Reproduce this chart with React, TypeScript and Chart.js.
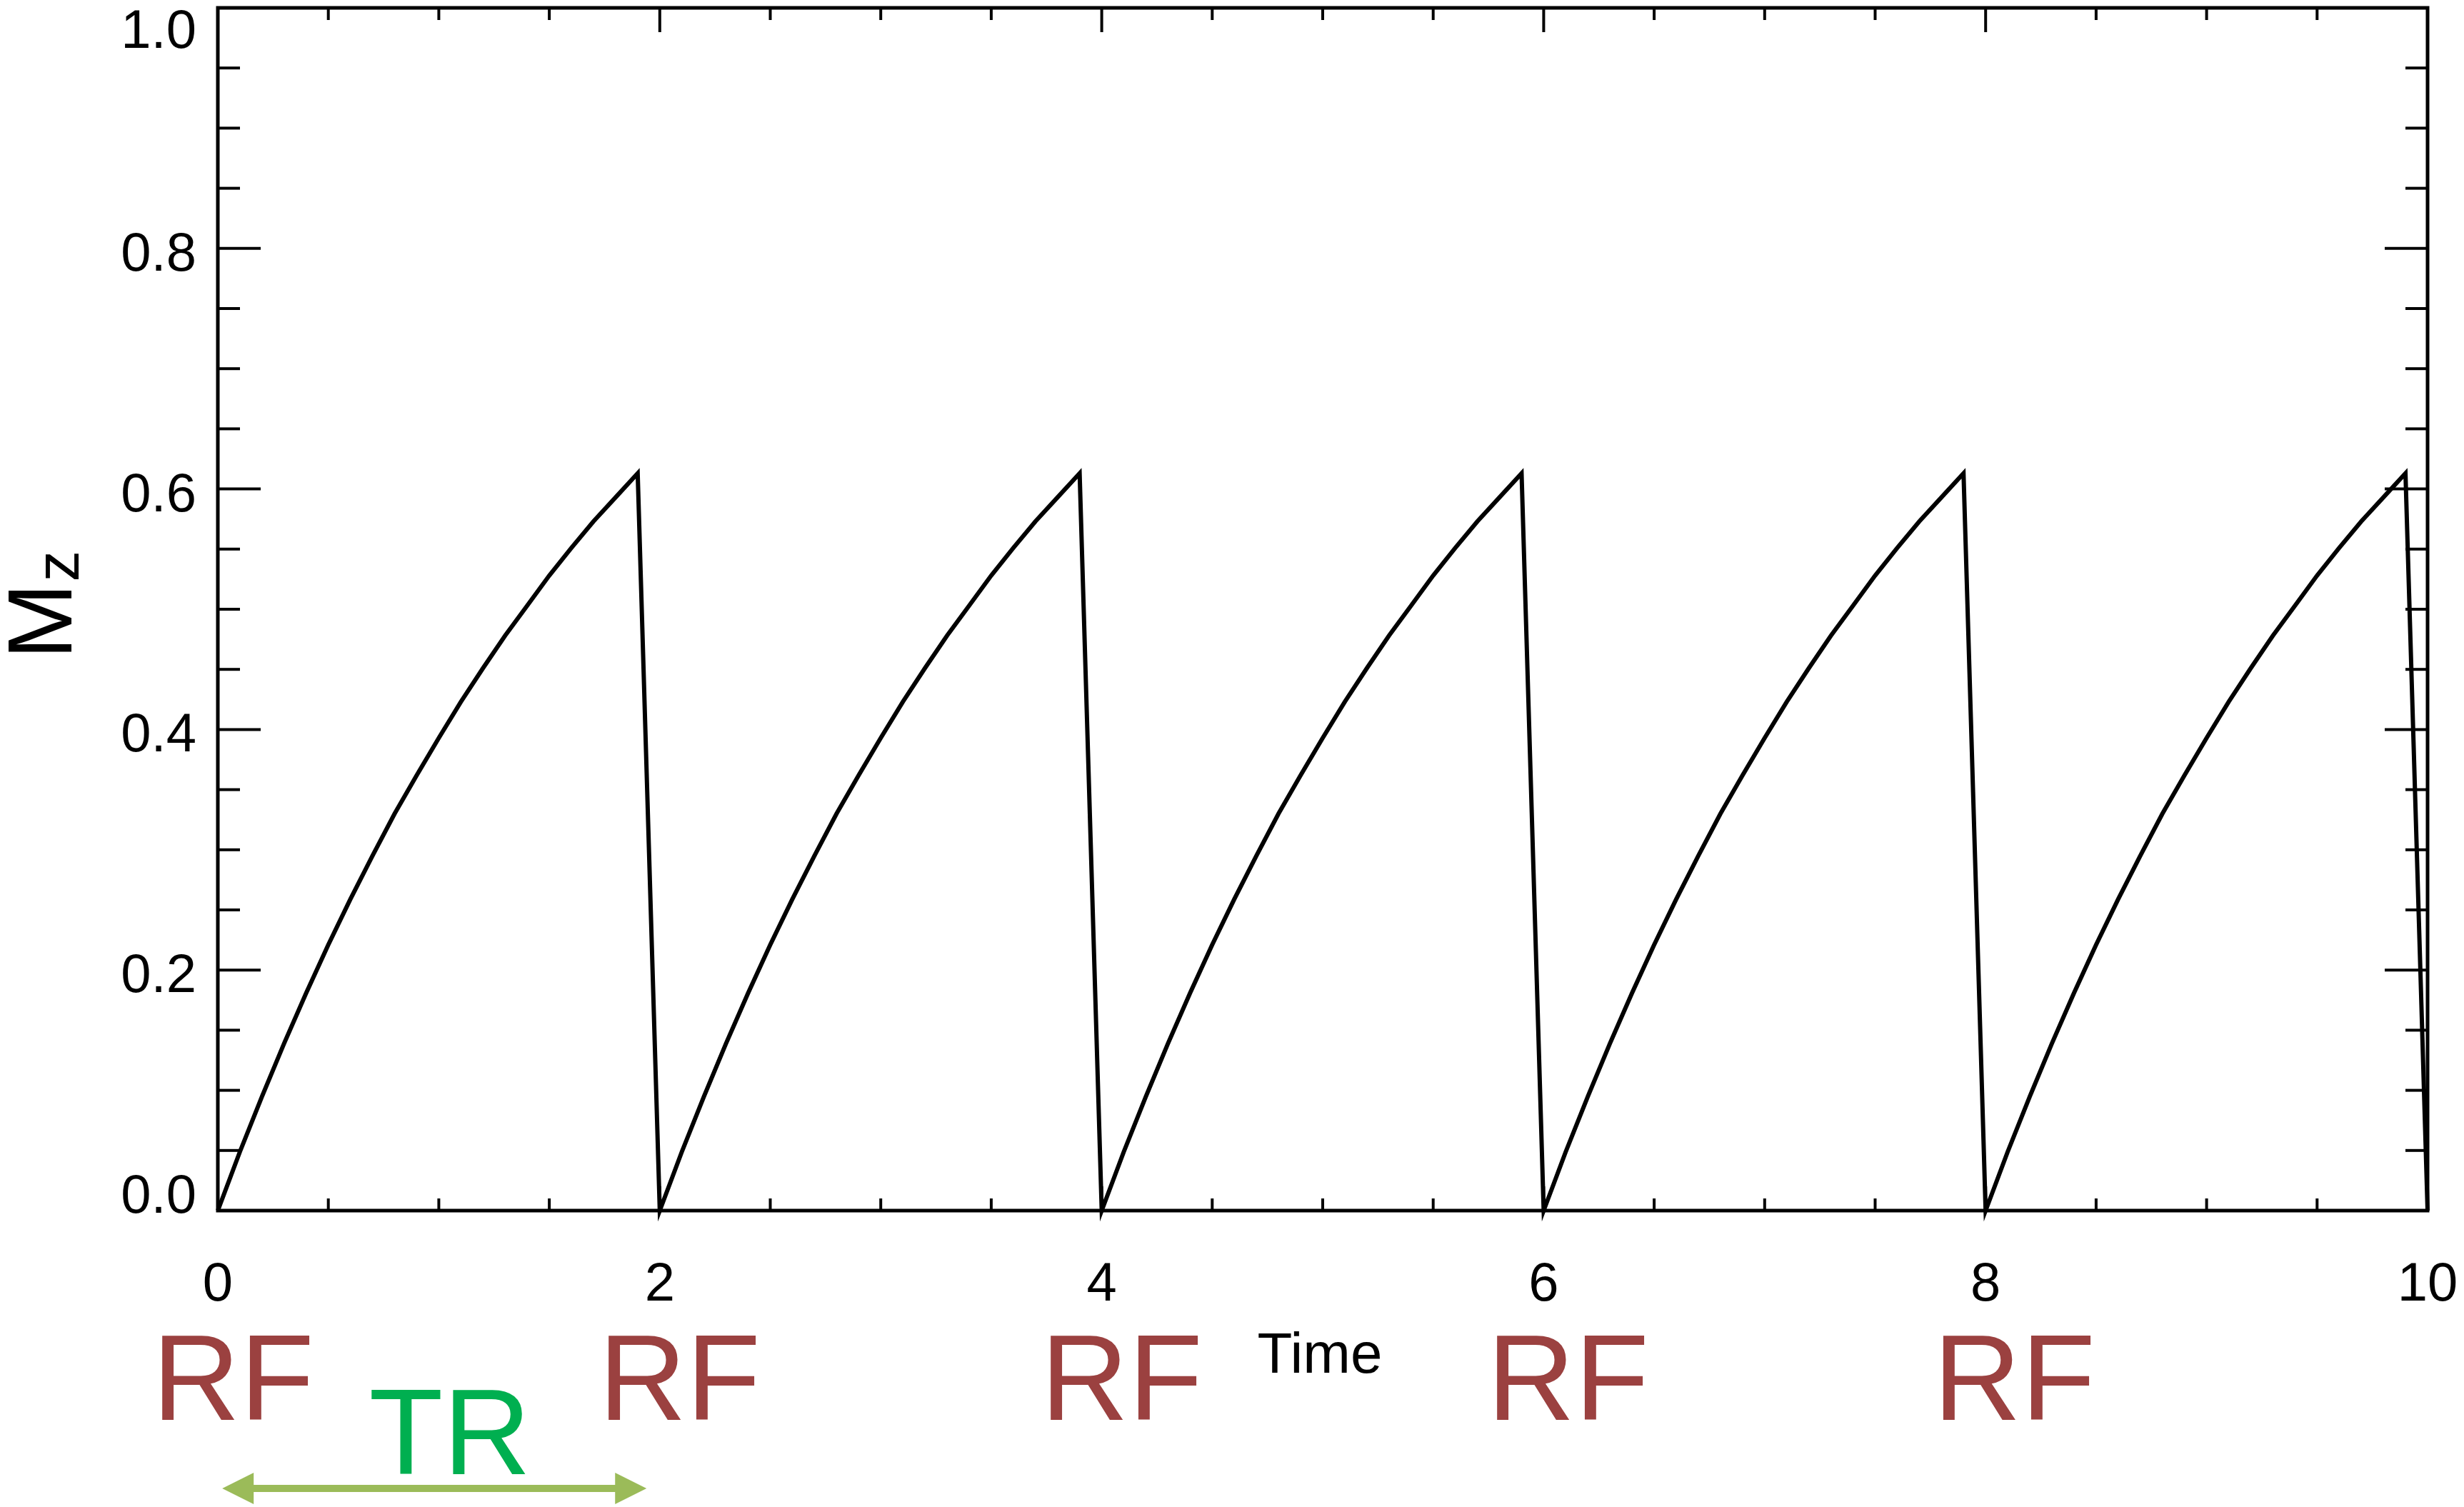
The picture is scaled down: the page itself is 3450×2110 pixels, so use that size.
import React, { useEffect, useRef } from "react";
import { Chart, registerables } from "chart.js";

Chart.register(...registerables);

// ---- data ----
const time = [
  0.0, 0.1, 0.2, 0.3, 0.4, 0.5, 0.6, 0.7, 0.8, 0.9,
  1.0, 1.1, 1.2, 1.3, 1.4, 1.5, 1.6, 1.7, 1.8, 1.9,
  2.0, 2.1, 2.2, 2.3, 2.4, 2.5, 2.6, 2.7, 2.8, 2.9,
  3.0, 3.1, 3.2, 3.3, 3.4, 3.5, 3.6, 3.7, 3.8, 3.9,
  4.0, 4.1, 4.2, 4.3, 4.4, 4.5, 4.6, 4.7, 4.8, 4.9,
  5.0, 5.1, 5.2, 5.3, 5.4, 5.5, 5.6, 5.7, 5.8, 5.9,
  6.0, 6.1, 6.2, 6.3, 6.4, 6.5, 6.6, 6.7, 6.8, 6.9,
  7.0, 7.1, 7.2, 7.3, 7.4, 7.5, 7.6, 7.7, 7.8, 7.9,
  8.0, 8.1, 8.2, 8.3, 8.4, 8.5, 8.6, 8.7, 8.8, 8.9,
  9.0, 9.1, 9.2, 9.3, 9.4, 9.5, 9.6, 9.7, 9.8, 9.9,
  10.0,
];

const mz = [
  0.0, 0.049, 0.095, 0.139, 0.181, 0.221, 0.259, 0.295, 0.33, 0.362,
  0.393, 0.423, 0.451, 0.478, 0.503, 0.528, 0.551, 0.573, 0.593, 0.613,
  0.0, 0.049, 0.095, 0.139, 0.181, 0.221, 0.259, 0.295, 0.33, 0.362,
  0.393, 0.423, 0.451, 0.478, 0.503, 0.528, 0.551, 0.573, 0.593, 0.613,
  0.0, 0.049, 0.095, 0.139, 0.181, 0.221, 0.259, 0.295, 0.33, 0.362,
  0.393, 0.423, 0.451, 0.478, 0.503, 0.528, 0.551, 0.573, 0.593, 0.613,
  0.0, 0.049, 0.095, 0.139, 0.181, 0.221, 0.259, 0.295, 0.33, 0.362,
  0.393, 0.423, 0.451, 0.478, 0.503, 0.528, 0.551, 0.573, 0.593, 0.613,
  0.0, 0.049, 0.095, 0.139, 0.181, 0.221, 0.259, 0.295, 0.33, 0.362,
  0.393, 0.423, 0.451, 0.478, 0.503, 0.528, 0.551, 0.573, 0.593, 0.613,
  0.0,
];

const xMajorTicks = [0, 2, 4, 6, 8, 10];
const xTickLabels = ["0", "2", "4", "6", "8", "10"];
const xMinorPerMajor = 4; // minor ticks every 0.5

const yMajorTicks = [0, 0.2, 0.4, 0.6, 0.8, 1.0];
const yTickLabels = ["0.0", "0.2", "0.4", "0.6", "0.8", "1.0"];
const yMinorPerMajor = 4; // minor ticks every 0.05

const xTitle = "Time";
const yTitleMain = "M";
const yTitleSub = "z";

const rfTimes = [0.07, 2.09, 4.09, 6.11, 8.13];
const rfLabel = "RF";
const trLabel = "TR";
const trCenterTime = 1.05;
const trArrowTimes = [0.02, 1.94];

// ---- styles ----
const W = 3450;
const H = 2110;
const FONT = "'Liberation Sans', Arial, Helvetica, sans-serif";
const RF_COLOR = "#9B4140";
const TR_COLOR = "#00AF50";
const ARROW_COLOR = "#9BBB59";

const overlayPlugin = {
  id: "overlay",
  beforeDatasetsDraw(chart: any) {
    const { ctx, chartArea: a } = chart;
    const x = chart.scales.x;
    const y = chart.scales.y;
    ctx.save();
    ctx.strokeStyle = "#000";
    ctx.lineCap = "butt";

    const seg = (x1: number, y1: number, x2: number, y2: number) => {
      ctx.beginPath();
      ctx.moveTo(x1, y1);
      ctx.lineTo(x2, y2);
      ctx.stroke();
    };

    // ticks
    ctx.lineWidth = 4;
    for (let i = 0; i < xMajorTicks.length; i++) {
      const v = xMajorTicks[i];
      const px = x.getPixelForValue(v);
      seg(px, a.bottom, px, a.bottom - 34);
      seg(px, a.top, px, a.top + 34);
      if (i < xMajorTicks.length - 1) {
        const step = (xMajorTicks[i + 1] - v) / xMinorPerMajor;
        for (let k = 1; k < xMinorPerMajor; k++) {
          const mx = x.getPixelForValue(v + k * step);
          seg(mx, a.bottom, mx, a.bottom - 17);
          seg(mx, a.top, mx, a.top + 17);
        }
      }
    }
    for (let i = 0; i < yMajorTicks.length; i++) {
      const v = yMajorTicks[i];
      const py = y.getPixelForValue(v);
      seg(a.left, py, a.left + 60, py);
      seg(a.right, py, a.right - 60, py);
      if (i < yMajorTicks.length - 1) {
        const step = (yMajorTicks[i + 1] - v) / yMinorPerMajor;
        for (let k = 1; k < yMinorPerMajor; k++) {
          const my = y.getPixelForValue(v + k * step);
          seg(a.left, my, a.left + 31, my);
          seg(a.right, my, a.right - 31, my);
        }
      }
    }

    // frame
    ctx.lineWidth = 5;
    ctx.strokeRect(a.left, a.top, a.right - a.left, a.bottom - a.top);
    ctx.restore();
  },
  afterDraw(chart: any) {
    const { ctx, chartArea: a } = chart;
    const x = chart.scales.x;
    const y = chart.scales.y;
    ctx.save();
    ctx.fillStyle = "#000";

    // y tick labels
    ctx.font = `76px ${FONT}`;
    ctx.textAlign = "right";
    ctx.textBaseline = "alphabetic";
    yMajorTicks.forEach((v, i) => {
      const py = y.getPixelForValue(v);
      let base = py + 31;
      base = Math.max(base, a.top + 56);
      base = Math.min(base, a.bottom + 3);
      ctx.fillText(yTickLabels[i], a.left - 30, base);
    });

    // x tick labels
    ctx.textAlign = "center";
    xMajorTicks.forEach((v, i) => {
      ctx.fillText(xTickLabels[i], x.getPixelForValue(v), a.bottom + 126);
    });

    // x title
    ctx.font = `80px ${FONT}`;
    ctx.fillText(xTitle, (a.left + a.right) / 2 - 4, 1922);

    // y title: M with subscript z, rotated
    ctx.save();
    ctx.translate(100, (a.top + a.bottom) / 2 + 70);
    ctx.rotate(-Math.PI / 2);
    ctx.textAlign = "left";
    ctx.font = `128px ${FONT}`;
    ctx.fillText(yTitleMain, 0, 0);
    const mW = ctx.measureText(yTitleMain).width;
    ctx.font = `87px ${FONT}`;
    ctx.fillText(yTitleSub, mW + 2, 10);
    ctx.restore();

    // RF labels
    ctx.textAlign = "center";
    ctx.font = `170px ${FONT}`;
    ctx.fillStyle = RF_COLOR;
    rfTimes.forEach((t) => {
      ctx.fillText(rfLabel, x.getPixelForValue(t), 1988);
    });

    // TR label
    ctx.fillStyle = TR_COLOR;
    ctx.fillText(trLabel, x.getPixelForValue(trCenterTime), 2064);

    // TR double arrow
    const x1 = x.getPixelForValue(trArrowTimes[0]);
    const x2 = x.getPixelForValue(trArrowTimes[1]);
    const ay = 2084;
    const headL = 44;
    const headH = 22;
    const shaft = 5;
    ctx.fillStyle = ARROW_COLOR;
    ctx.beginPath();
    ctx.moveTo(x1, ay);
    ctx.lineTo(x1 + headL, ay - headH);
    ctx.lineTo(x1 + headL, ay - shaft);
    ctx.lineTo(x2 - headL, ay - shaft);
    ctx.lineTo(x2 - headL, ay - headH);
    ctx.lineTo(x2, ay);
    ctx.lineTo(x2 - headL, ay + headH);
    ctx.lineTo(x2 - headL, ay + shaft);
    ctx.lineTo(x1 + headL, ay + shaft);
    ctx.lineTo(x1 + headL, ay + headH);
    ctx.closePath();
    ctx.fill();

    ctx.restore();
  },
};

export default function App() {
  const ref = useRef<HTMLCanvasElement | null>(null);

  useEffect(() => {
    document.body.style.margin = "0";
    document.body.style.overflow = "hidden";
    document.body.style.background = "#fff";
    const canvas = ref.current;
    if (!canvas) return;
    const chart = new Chart(canvas, {
      type: "line",
      data: {
        datasets: [
          {
            data: time.map((t, i) => ({ x: t, y: mz[i] })),
            borderColor: "#000",
            borderWidth: 6,
            pointRadius: 0,
            tension: 0,
            fill: false,
            clip: false as any,
            borderJoinStyle: "miter",
          },
        ],
      },
      options: {
        animation: false,
        responsive: false,
        maintainAspectRatio: false,
        devicePixelRatio: 1,
        layout: { padding: { top: 11, right: 51, left: 0, bottom: 0 } },
        plugins: {
          legend: { display: false },
          tooltip: { enabled: false },
        },
        scales: {
          x: {
            type: "linear",
            min: 0,
            max: 10,
            grid: { display: false },
            border: { display: false },
            ticks: { display: false },
            afterFit: (s: any) => {
              s.height = H - 1695;
            },
          },
          y: {
            type: "linear",
            min: 0,
            max: 1,
            grid: { display: false },
            border: { display: false },
            ticks: { display: false },
            afterFit: (s: any) => {
              s.width = 305;
            },
          },
        },
      },
      plugins: [overlayPlugin],
    });
    return () => chart.destroy();
  }, []);

  return (
    <div style={{ width: W, height: H, background: "#fff" }}>
      <canvas ref={ref} width={W} height={H} style={{ display: "block", width: W, height: H }} />
    </div>
  );
}
